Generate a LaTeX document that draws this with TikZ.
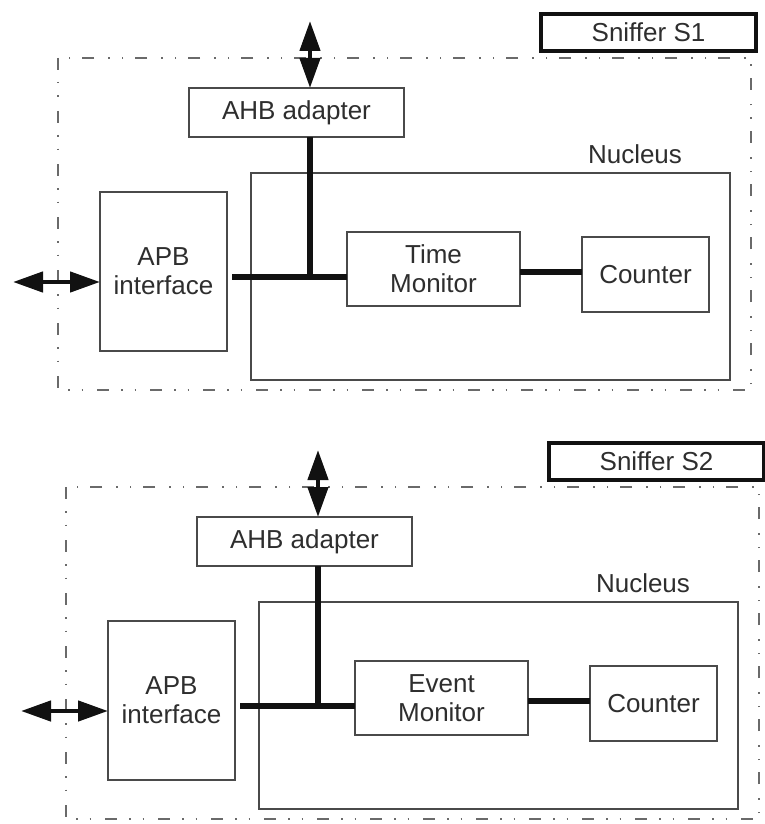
\documentclass[tikz,border=0pt]{standalone}
\usepackage{fontspec}
\setmainfont{Liberation Sans}
\usetikzlibrary{arrows.meta}
\definecolor{ink}{HTML}{2E2E2E}
\definecolor{edge}{HTML}{4A4A4A}
\definecolor{frameline}{HTML}{6A6A6A}
\definecolor{heavy}{HTML}{111111}
\tikzset{
  box/.style={draw=edge, line width=1.3pt, inner sep=0pt, outer sep=0pt,
    align=center, text=ink, font=\fontsize{26}{29}\selectfont},
  tagbox/.style={draw=heavy, line width=4.5pt, inner sep=0pt, outer sep=0pt,
    text=ink, font=\fontsize{26}{29}\selectfont},
  caption/.style={inner sep=0pt, text=ink, font=\fontsize{26}{29}\selectfont},
  bus/.style={draw=heavy, line width=5.5pt},
  port/.style={draw=heavy, fill=heavy, line width=4.5pt,
    {Triangle[length=30pt,width=20pt]}-{Triangle[length=30pt,width=20pt]}},
  outline/.style={draw=frameline, line width=1.3pt,
    dash pattern=on 12pt off 12pt on 1.5pt off 12pt on 1.5pt off 14pt},
}
% One sniffer: #1 = name suffix, #2 = monitor text, #3 = sniffer title
\newcommand\snifferblock[3]{%
  \draw[outline] (58,58) rectangle (751,390);
  \node[tagbox, minimum width=215pt, minimum height=37pt] (tag#1) at (648.5,32.5) {#3};
  \node[box, minimum width=215pt, minimum height=49pt] (ahb#1) at (296.5,112.5) {AHB adapter};
  \node[box, minimum width=479pt, minimum height=207pt] (nuc#1) at (490.5,276.5) {};
  \node[caption] (nuclab#1) at (635,154) {Nucleus};
  \node[box, minimum width=127pt, minimum height=159pt] (apb#1) at (163.5,271.5) {APB\\interface};
  \node[box, minimum width=173pt, minimum height=74pt] (mon#1) at (433.5,269) {#2};
  \node[box, minimum width=127pt, minimum height=75pt] (cnt#1) at (645.5,274.5) {Counter};
  \coordinate (j#1) at (310,277);
  \coordinate (k#1) at (550,272);
  \coordinate (top#1) at (310,21);
  \coordinate (left#1) at (13,282);
  \draw[bus] (ahb#1.south -| j#1) -- ([yshift=-2.75pt]j#1);
  \draw[bus] ([xshift=5pt]apb#1.east |- j#1) -- (mon#1.west |- j#1);
  \draw[bus] (mon#1.east |- k#1) -- (cnt#1.west |- k#1);
  \draw[port] (top#1) -- (ahb#1.north -| top#1);
  \draw[port] (left#1) -- (apb#1.west |- left#1);
}
\begin{document}
\begin{tikzpicture}[x=1pt, y=-1pt]
  \fill[white] (0,0) rectangle (764,824);
  \useasboundingbox (0,0) rectangle (764,824);
  \begin{scope}
    \snifferblock{a}{Time\\Monitor}{Sniffer S1}
  \end{scope}
  \begin{scope}[shift={(8,429)}]
    \snifferblock{b}{Event\\Monitor}{Sniffer S2}
  \end{scope}
\end{tikzpicture}
\end{document}
